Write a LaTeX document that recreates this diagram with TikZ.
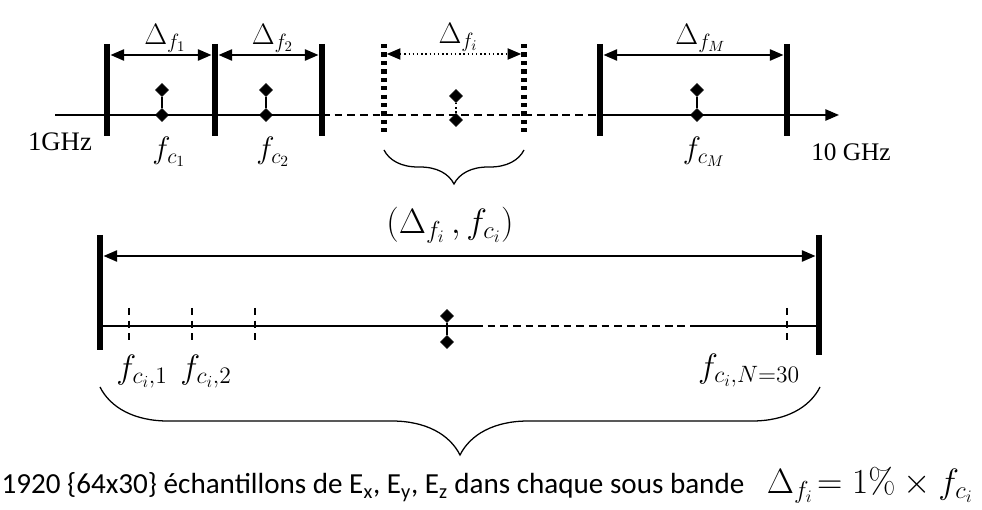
\RequirePackage{fix-cm}
\documentclass[tikz,border=0pt]{standalone}
\usepackage[no-math]{fontspec}
\newfontfamily\timesf{Liberation Serif}
\newfontfamily\calibri{Carlito}
\usetikzlibrary{arrows.meta,shapes.geometric,decorations.pathreplacing}

\begin{document}
\begin{tikzpicture}[x=0.025cm,y=-0.025cm,>={Triangle[length=3.4mm,width=2.8mm]},
  every node/.style={font=\fontsize{21}{24}\selectfont,inner sep=1pt},
  lbl/.style={font=\fontsize{#1}{26}\selectfont},
  ax/.style={line width=1.3pt},
  bar/.style={line width=4.5pt},
  dotbar/.style={line width=4pt,dash pattern=on 3pt off 3pt},
  vtick/.style={line width=1.1pt,dash pattern=on 5pt off 4pt},
  dia/.style={diamond,fill,draw,inner sep=0pt,minimum size=3.3mm},
  brc/.style={decorate,line width=0.9pt,decoration={brace,amplitude=#1}}]
\useasboundingbox (0,0) rectangle (982,510);

% axe 1 GHz -- 10 GHz et sous bandes
\coordinate (s) at (55,115); \coordinate (e) at (839,115);
\foreach \n/\x in {b0/107,b1/215,b2/322,bM/600,bN/787} {
  \coordinate (\n t) at (\x,44); \coordinate (\n b) at (\x,136); \coordinate (\n) at (\x,55);
  \draw[bar] (\n t) -- (\n b);
}
\foreach \n/\x in {bi/384,bj/524} {
  \coordinate (\n t) at (\x,44); \coordinate (\n b) at (\x,132); \coordinate (\n) at (\x,54);
  \draw[dotbar] (\n t) -- (\n b);
}
\draw[ax] (s) -- (b2 |- s);
\draw[ax,dash pattern=on 5.5pt off 3.5pt] (b2 |- s) -- (bM |- s);
\draw[ax,->] (bM |- s) -- (e);
\draw[ax,<->,shorten <=2.5pt,shorten >=2.5pt] (b0) -- node[above=0pt,xshift=3pt] {$\Delta_{f_1}$} (b1);
\draw[ax,<->,shorten <=2.5pt,shorten >=2.5pt] (b1) -- node[above=0pt,xshift=3pt] {$\Delta_{f_2}$} (b2);
\draw[line width=1pt,dotted,<->,shorten <=2pt,shorten >=2pt] (bi) -- node[above=0pt,xshift=3pt] {$\Delta_{f_i}$} (bj);
\draw[ax,<->,shorten <=2.5pt,shorten >=2.5pt] (bM) -- node[above=0pt,xshift=5pt] {$\Delta_{f_M}$} (bN);
\node[font=\timesf\fontsize{19}{22}\selectfont] (g1) at (60,142) {1GHz};
\node[font=\timesf\fontsize{18}{21}\selectfont] (g10) at (851,152) {10 GHz};

% frequences centrales
\foreach \n/\x/\l in {c1/162/1,c2/266/2,cM/697/M} {
  \node[dia] (\n h) at (\x,90) {};
  \node[dia] (\n) at (\x,115) {};
  \draw[ax] (\n h) -- (\n);
  \node[lbl=22] (\n l) at (\x+7,152) {$f_{c_\l}$};
}
\node[dia] (cih) at (456,96) {};
\node[dia] (ci) at (456,120) {};
\draw[line width=1pt,dotted] (cih) -- (ci);
\coordinate (ki) at (384,150); \coordinate (kj) at (524,150);
\draw[brc=0.85cm] (kj) -- (ki);
\node[lbl=25] (zoom) at (450,225) {$(\Delta_{f_i}\,,f_{c_i})$};

% sous bande i
\coordinate (L t) at (100,235); \coordinate (L b) at (100,350); \coordinate (L) at (100,256);
\coordinate (R t) at (819,235); \coordinate (R b) at (819,355); \coordinate (R) at (819,256);
\draw[bar] (L t) -- (L b); \draw[bar] (R t) -- (R b);
\draw[ax,<->,shorten <=2.5pt,shorten >=2.5pt] (L) -- (R);
\coordinate (p) at (100,326); \coordinate (q) at (475,326); \coordinate (r) at (697,326);
\draw[ax] (p) -- (q);
\draw[ax,dash pattern=on 5.5pt off 3.5pt] (q) -- (r);
\draw[ax] (r) -- (R |- p);
\foreach \n/\x in {t1/129,t2/192,t3/255,tN/787} {
  \coordinate (\n) at (\x,308); \coordinate (\n b) at (\x,345);
  \draw[vtick] (\n) -- (\n b);
}
\node[dia] (sh) at (447,316) {};
\node[dia] (sl) at (447,342) {};
\draw[ax] (sh) -- (sl);
\node[lbl=24] (f1) at (142,372) {$f_{c_i,1}$};
\node[lbl=24] (f2) at (206,372) {$f_{c_i,2}$};
\node[lbl=24] (fN) at (749,371) {$f_{c_i,N=30}$};
\coordinate (ka) at (100,387); \coordinate (kb) at (820,387);
\draw[brc=1.7cm] (kb) -- (ka);

% legende
\node[font=\calibri\fontsize{20.7}{24}\selectfont] (txt) at (373,487)
  {1920 \{64x30\} échantillons de E\textsubscript{x}, E\textsubscript{y}, E\textsubscript{z} dans chaque sous bande};
\node[lbl=25] (eq) at (870,485) {$\Delta_{f_i}\!= 1\% \times f_{c_i}$};
\end{tikzpicture}
\end{document}
